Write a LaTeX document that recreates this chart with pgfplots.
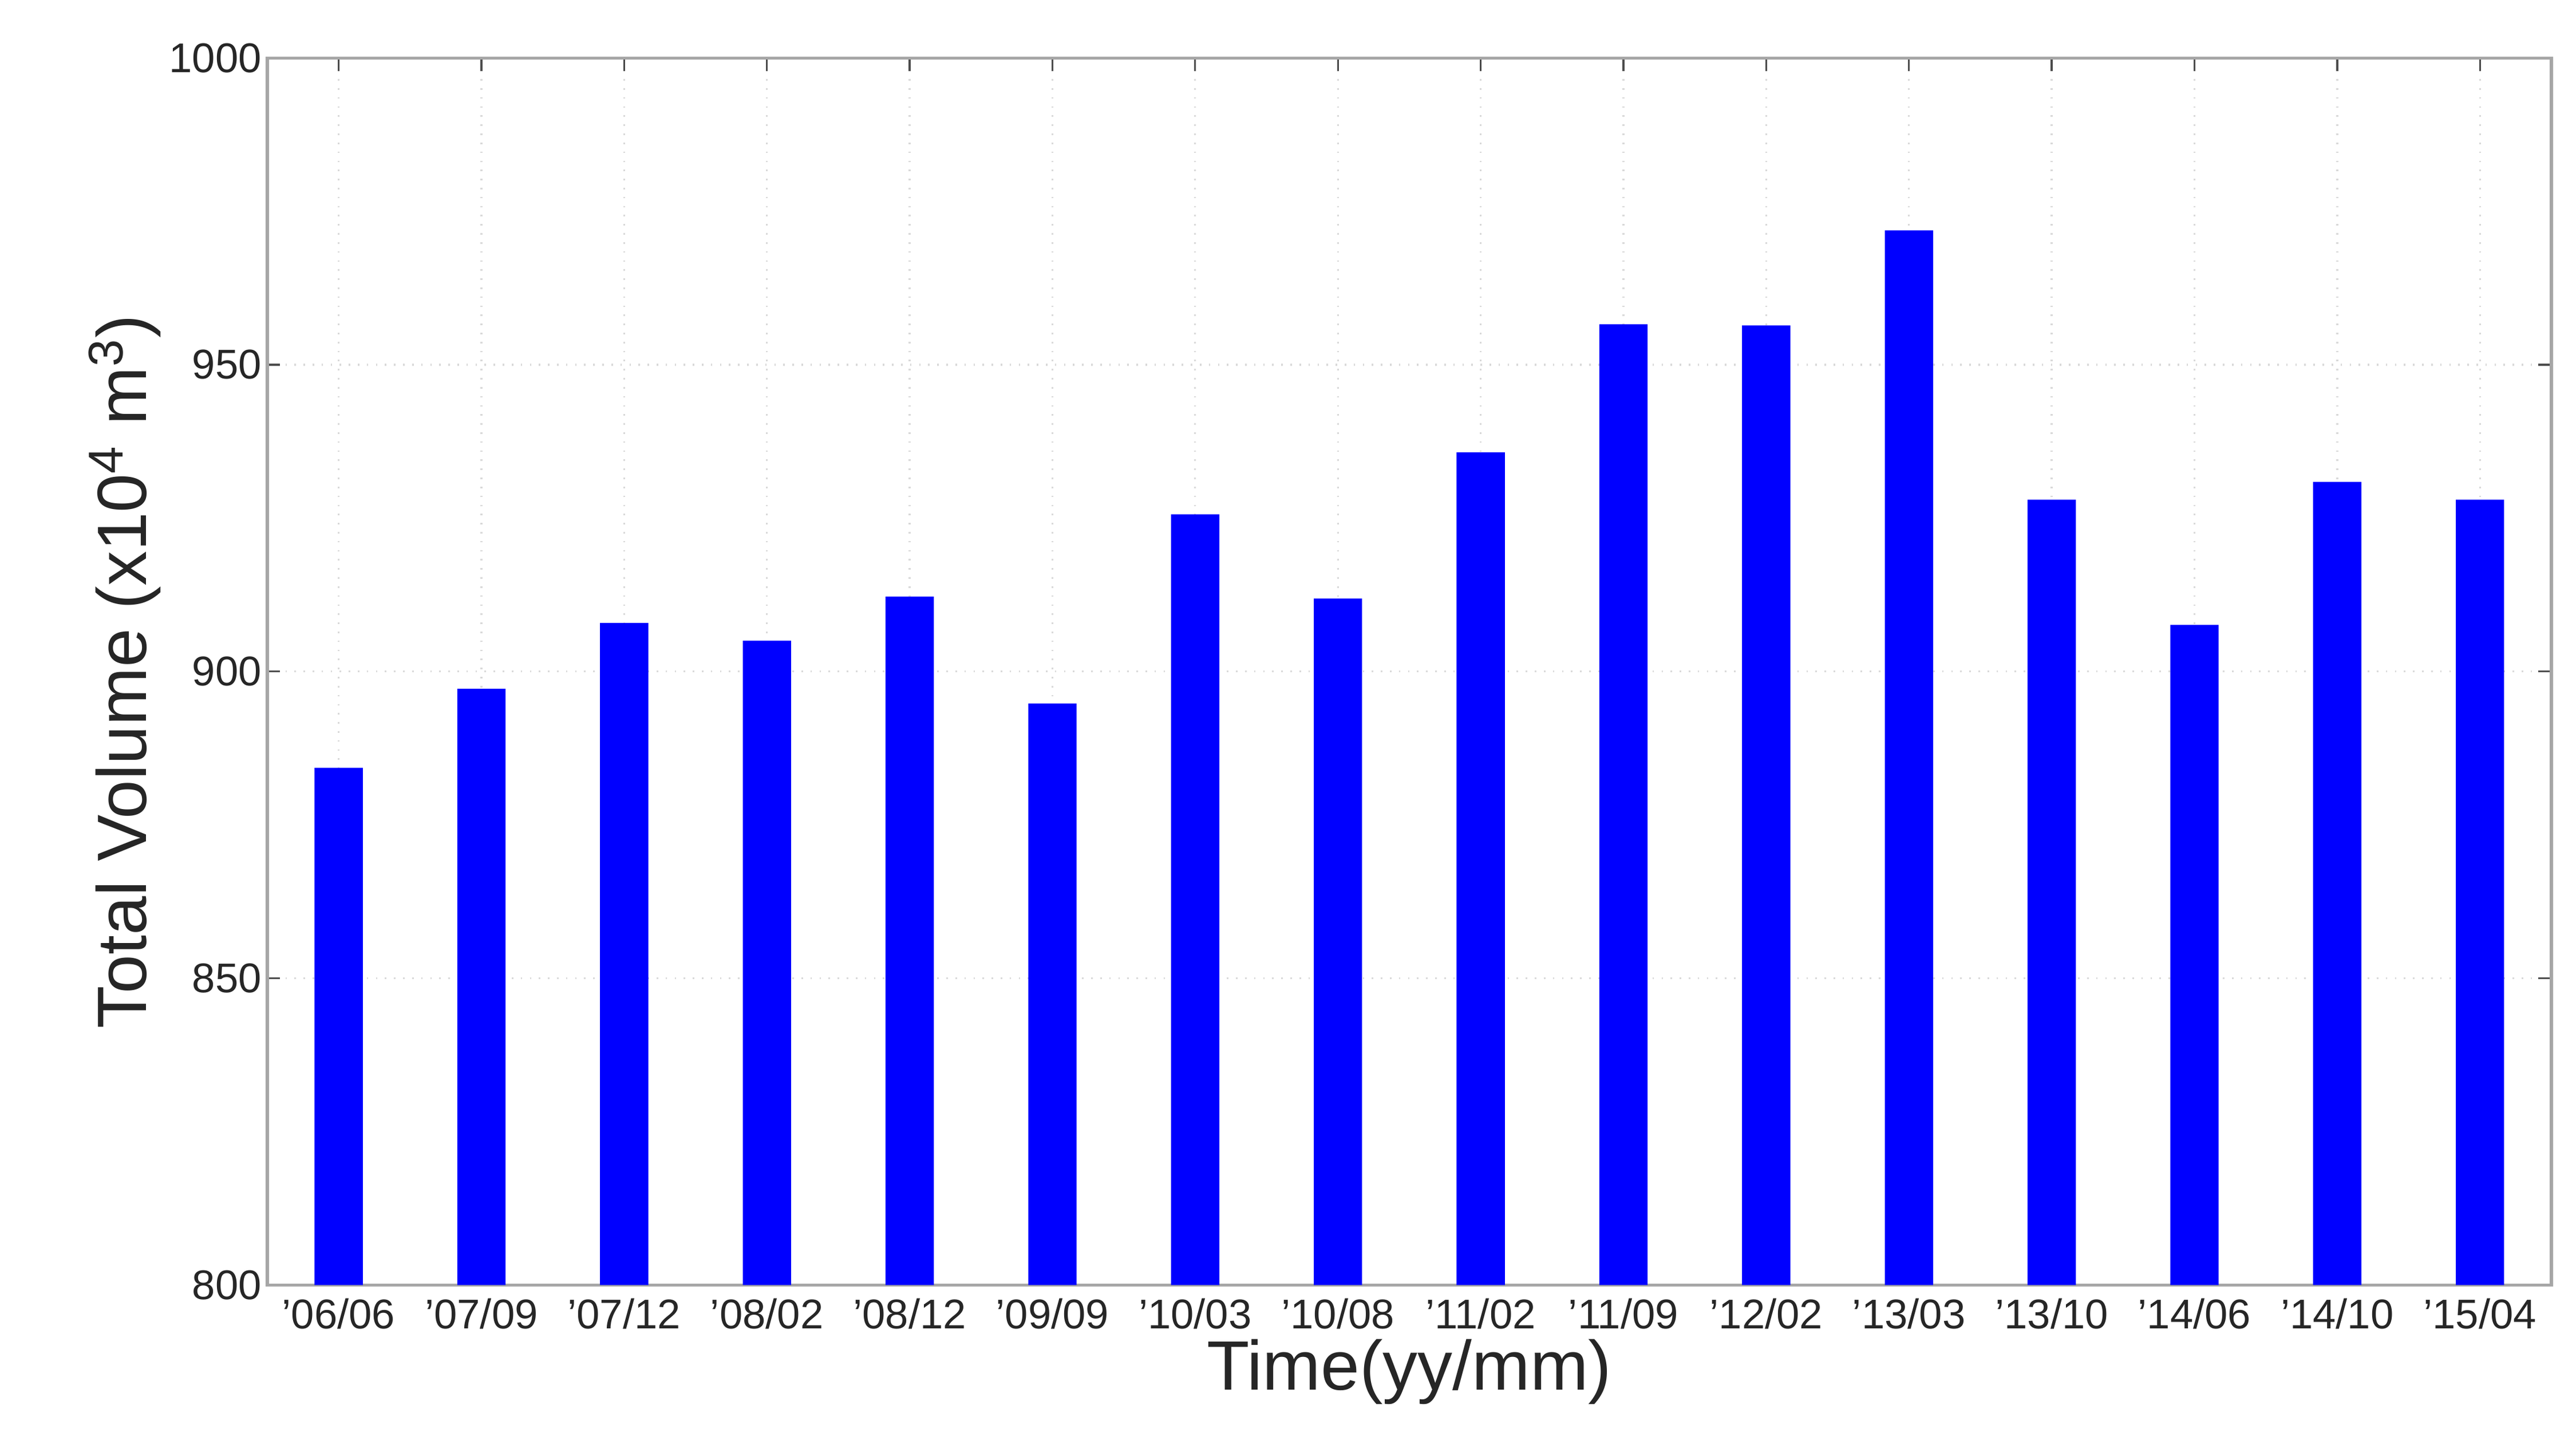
\documentclass[border=0pt]{standalone}
\usepackage{fontspec}
\setmainfont{Liberation Sans}
\usepackage{pgfplots}
\pgfplotsset{compat=1.18}
\begin{document}
\begin{tikzpicture}
\begin{axis}[
  scale only axis,
  width=21.28cm, height=11.43cm,
  ybar, bar width=0.45cm,
  xmin=-0.5, xmax=15.5, ymin=800, ymax=1000,
  xtick=data,
  xticklabels={'06/06,'07/09,'07/12,'08/02,'08/12,'09/09,'10/03,'10/08,'11/02,'11/09,'12/02,'13/03,'13/10,'14/06,'14/10,'15/04},
  ytick={800,850,900,950,1000},
  tick align=inside,
  major tick length=0.12cm,
  tick style={black!70, line width=0.5pt},
  axis line style={black!35, line width=0.8pt},
  grid=major,
  major grid style={black!15, dotted, line width=0.5pt},
  ticklabel style={font=\fontsize{11}{13}\selectfont, text=black!85},
  /pgf/number format/assume math mode=true,
  /pgf/number format/1000 sep={},
  xticklabel style={yshift=0pt},
  yticklabel style={xshift=2pt},
  xlabel={Time(yy/mm)},
  ylabel={Total Volume (x10\textsuperscript{4} m\textsuperscript{3})},
  label style={font=\fontsize{18.5}{22}\selectfont, text=black!85},
  xlabel style={at={(axis description cs:0.5,-0.0709)}, anchor=center},
  ylabel style={at={(axis description cs:-0.0625,0.5)}, anchor=center},
]
\addplot[fill=blue, draw=none] coordinates {
  (0,884.3) (1,897.2) (2,907.9) (3,905.0) (4,912.2) (5,894.8)
  (6,925.6) (7,911.9) (8,935.7) (9,956.6) (10,956.4) (11,971.9)
  (12,928.0) (13,907.6) (14,930.9) (15,928.0)
};
\end{axis}
\pgfresetboundingbox
\path ([shift={(-2.49cm,-1.44cm)}]current axis.south west) rectangle ([shift={(0.23cm,0.54cm)}]current axis.north east);
\end{tikzpicture}
\end{document}
